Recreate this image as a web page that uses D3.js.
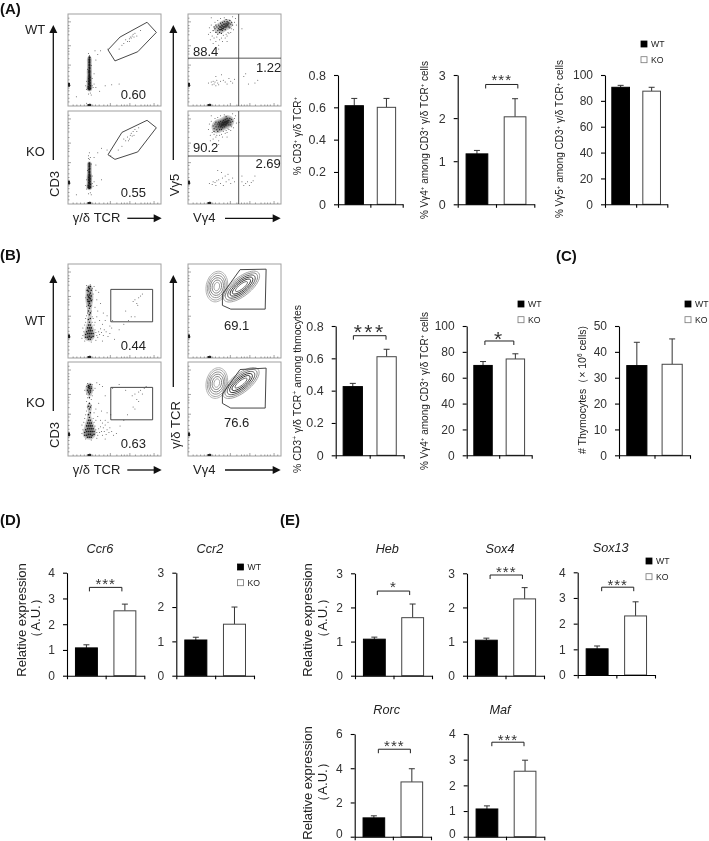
<!DOCTYPE html>
<html>
<head>
<meta charset="utf-8">
<script src="https://cdn.jsdelivr.net/npm/d3@7"></script>
<style>
  html, body { margin: 0; padding: 0; background: #fff; }
  svg { display: block; font-family: "Liberation Sans", Arial, sans-serif; filter: blur(0.35px); }
</style>
</head>
<body>
<div id="chart"></div>
<script>
var svgWidth = 709;
var svgHeight = 841;

var groups = ["WT", "KO"];

// bar heights and the top of each error bar
var a1Mean = [0.61, 0.60], a1Err = [0.655, 0.655];
var a2Mean = [1.17, 2.03], a2Err = [1.25, 2.45];
var a3Mean = [90.5, 87.5], a3Err = [92, 90.5];
var b1Mean = [0.425, 0.61], b1Err = [0.445, 0.656];
var b2Mean = [69.5, 74.5], b2Err = [72.5, 78.5];
var cMean = [34.7, 35.2], cErr = [43.7, 45];
var ccr6Mean = [1.08, 2.52], ccr6Err = [1.2, 2.78];
var ccr2Mean = [1.04, 1.5], ccr2Err = [1.12, 2.0];
var hebMean = [1.07, 1.7], hebErr = [1.13, 2.1];
var sox4Mean = [1.04, 2.25], sox4Err = [1.1, 2.58];
var sox13Mean = [1.02, 2.3], sox13Err = [1.13, 2.85];
var rorcMean = [1.1, 3.2], rorcErr = [1.22, 3.97];
var mafMean = [1.08, 2.55], mafErr = [1.2, 2.98];

// y axis ticks
var ticksFrac = [0, 0.2, 0.4, 0.6, 0.8];
var ticks3 = [0, 1, 2, 3];
var ticks4 = [0, 1, 2, 3, 4];
var ticks6 = [0, 2, 4, 6];
var ticks50 = [0, 10, 20, 30, 40, 50];
var ticks100 = [0, 20, 40, 60, 80, 100];

// flow panels use a 0-100 scale on both axes
var flowMinor = [5, 9, 13, 17, 20, 26, 29, 33, 38, 42, 52, 57, 60, 63, 72, 78, 82, 85, 88, 96];
var flowMajor = [23, 45, 66, 92];

var aCd3WtCore = [[23,18],[22,19],[24,19],[23,20],[22,21],[24,22],[23,23],[22.5,24],[23.5,25],[23,26],[22.5,27],[23.5,28],[23,29],[22.5,30],[23.5,31],[23,32],[23,33],[23,34],[23,36],[22.8,37],[23.2,38],[22.8,39],[23.2,41],[23,42],[23,44],[23,45],[23,47],[23,48],[23,50],[23,51],[23,53]];
var aCd3WtSparse = [[23,55],[22,57],[24,53],[25,44],[21,40],[26,30],[20,27],[26,22],[27,20],[20,18],[19,22],[28,24],[24,14],[25,12],[22,13],[30,20],[34,16],[40,22],[47,23],[55,24],[35,60],[32,56],[30,50],[29,60],[43,62],[60,68],[62,72],[64,70],[66,73],[67,75],[68,74],[69,76],[70,78],[71,75],[72,79],[66,70],[58,66],[74,76],[55,62],[78,82],[9,10],[20,3],[28,35]];
var aCd3KoCore = [[23,17],[22,18],[24,18],[23,19],[22,20],[24,21],[23,22],[22.5,23],[23.5,24],[23,25],[22.5,26],[23.5,27],[23,28],[22.5,29],[23.5,30],[23,31],[23,32],[23,34],[23,35],[22.8,37],[23.2,38],[23,40],[23,41],[23,43],[23,44]];
var aCd3KoSparse = [[23,48],[22,52],[24,50],[23,55],[22,49],[25,43],[21,36],[26,30],[20,26],[26,22],[27,19],[20,16],[19,20],[28,24],[24,12],[25,10],[22,11],[31,20],[36,26],[30,42],[28,50],[32,55],[36,60],[42,58],[46,52],[58,62],[62,68],[64,72],[66,70],[67,74],[68,76],[69,73],[70,78],[71,74],[72,80],[65,68],[60,70],[74,78],[76,82],[54,58],[9,10]];

var aVWtCore = [[27,82],[29,84],[30,80],[31,86],[32,82],[33,84],[33,88],[34,80],[34,86],[35,83],[35,90],[36,85],[36,88],[37,82],[37,87],[37,91],[38,84],[38,89],[39,86],[39,92],[40,83],[40,88],[41,90],[41,86],[42,87],[42,92],[43,88],[43,91],[44,90],[44,86],[45,93],[46,89],[47,91],[48,88],[36,79],[32,78],[30,88],[41,94],[28,86],[45,85],[34,83],[36,83],[38,86],[40,86],[42,89],[35,86],[37,84],[39,89],[41,88],[43,89]];
var aVWtSparse = [[22,78],[23,85],[24,72],[25,88],[26,76],[27,68],[28,74],[29,91],[30,70],[31,75],[32,93],[33,66],[34,72],[35,95],[36,74],[37,70],[38,77],[39,96],[40,74],[41,78],[42,76],[43,80],[44,79],[46,80],[47,84],[49,83],[50,91],[51,95],[52,88],[25,96],[24,80],[33,62],[42,70],[48,97],[58,84],[22,25],[25,26],[26,23],[27,27],[28,24],[29,26],[30,22],[31,28],[32,25],[33,23],[35,27],[38,28],[40,26],[42,24],[44,30],[46,27],[48,25],[36,34],[30,32],[50,29],[60,32],[65,24],[72,25],[75,28],[62,35]];
var aVKoCore = [[27,84],[28,81],[29,86],[30,83],[31,80],[32,86],[33,83],[33,88],[34,80],[34,85],[35,83],[35,89],[36,86],[37,82],[37,88],[38,85],[38,90],[39,86],[39,83],[40,88],[40,91],[41,85],[41,89],[42,87],[42,92],[43,88],[44,90],[44,85],[45,92],[46,88],[47,91],[48,89],[36,80],[32,78],[30,88],[41,94],[28,78],[46,85],[34,87],[36,84],[38,87],[40,85],[42,89],[37,85],[39,88],[41,87],[43,90]];
var aVKoSparse = [[22,80],[23,86],[24,74],[25,89],[26,77],[27,70],[28,75],[29,92],[30,72],[31,74],[32,93],[33,68],[34,74],[35,95],[36,75],[37,72],[38,78],[39,96],[40,76],[41,79],[42,77],[43,81],[44,80],[46,79],[47,83],[49,82],[50,92],[51,95],[52,87],[25,95],[24,68],[33,64],[42,72],[48,97],[55,88],[23,22],[26,21],[27,24],[29,23],[30,20],[31,25],[33,26],[35,22],[37,28],[38,20],[40,30],[41,24],[43,32],[44,26],[46,22],[48,28],[36,34],[32,36],[50,24],[58,24],[60,20],[62,22],[64,24],[66,20],[68,23],[70,25],[58,30],[72,30]];

var bCd3WtCore = [[22,20],[24,20],[19,22],[21,22],[23,23],[25,22],[27,23],[19,25],[21,26],[23,26],[25,26],[27,26],[20,28],[22,29],[24,29],[26,29],[21,32],[23,32],[25,32],[22,35],[24,35],[23,38],[22,41],[24,42],[23,46],[22,50],[24,48],[23,53],[22,56],[24,55],[23,58],[22,60],[23,60],[24,63],[22,65],[23,67],[24,69],[22,71],[21,62],[25,61],[21,67],[25,66],[23,64],[21,72],[25,72],[23,74],[24,76],[22,75]];
var bCd3WtSparse = [[16,24],[17,28],[16,32],[18,35],[19,38],[19,42],[20,45],[26,38],[27,42],[28,35],[29,30],[30,27],[31,24],[32,22],[33,28],[34,25],[35,31],[36,27],[38,24],[39,30],[41,28],[43,23],[45,26],[47,32],[29,38],[31,44],[34,40],[37,36],[40,40],[21,48],[25,50],[20,55],[25,56],[21,60],[26,62],[19,64],[27,68],[20,72],[26,74],[22,76],[24,78],[20,77],[28,76],[30,72],[33,70],[31,62],[35,58],[29,54],[32,50],[38,48],[42,45],[26,44],[18,18],[25,17],[30,19],[37,18],[50,20],[55,30],[60,36],[65,40],[72,44],[48,40],[70,60],[72,62],[74,58],[76,64],[78,66],[80,68],[75,56],[68,44],[62,50],[45,34],[24,30],[15,21]];
var bCd3KoCore = [[21,20],[23,20],[25,20],[18,22],[20,22],[22,23],[24,23],[26,22],[28,23],[18,25],[20,26],[22,26],[24,26],[26,26],[28,26],[19,28],[21,29],[23,29],[25,29],[27,29],[20,32],[22,32],[24,32],[26,32],[21,35],[23,35],[25,35],[22,38],[24,38],[23,41],[22,44],[24,46],[23,50],[22,53],[24,52],[23,56],[22,68],[24,70],[23,72],[22,73],[21,70],[25,72],[23,74],[24,68],[22,75],[24,76],[23,66],[23,62]];
var bCd3KoSparse = [[15,24],[16,28],[15,33],[17,36],[18,40],[19,44],[20,48],[27,40],[28,36],[29,32],[30,28],[31,25],[32,22],[33,29],[34,25],[35,31],[36,26],[37,22],[38,30],[39,26],[40,33],[41,23],[42,28],[44,25],[45,30],[47,26],[49,22],[30,38],[32,42],[35,38],[37,35],[40,38],[43,36],[28,46],[21,52],[25,54],[20,58],[25,60],[21,62],[26,64],[20,66],[27,70],[20,74],[26,76],[21,77],[25,74],[29,72],[31,78],[34,76],[37,74],[40,64],[33,56],[30,50],[36,48],[42,46],[46,44],[25,17],[19,18],[31,19],[40,18],[52,24],[56,32],[60,38],[64,44],[72,50],[69,64],[72,66],[74,60],[76,68],[78,70],[80,66],[82,72],[84,74],[76,58],[70,52],[48,72],[55,76],[62,70],[18,70]];

// polygon gates
var aGateWt = [[43,61],[50.5,49],[75,59],[95,80],[85,91],[56,75]];
var aGateKo = [[43,53],[50.5,48],[75,56],[95,82],[85,90],[58,77]];
var bRectGate = [[46,38.5],[91,38.5],[91,73],[46,73]];
var bVGateWt = [[37,68],[56,94],[84,94.5],[83,52],[46,52],[37,56]];
var bVGateKo = [[37,66],[56,92],[84,93.5],[83,51],[46,51],[37,56]];

// contour levels [half width, half height], outer to inner
var blobLevelsLeft = [[11.5,16.5],[10,14.5],[8.5,12],[7,9.5],[5,7],[3,4.5]];
var blobLevelsRight = [[23.5,10],[21,8.5],[18,7],[15,5.5],[12,4],[8,2.5]];

// gene panels and summary panels: where each axis sits on the page
var barPanels = [
  {mean: a1Mean, err: a1Err, ticks: ticksFrac, max: 0.8, x0: 338, x1: 402.7, y0: 204.3, y1: 75, tickFont: 12.5},
  {mean: a2Mean, err: a2Err, ticks: ticks3, max: 3, x0: 457.7, x1: 534.3, y0: 204.3, y1: 75, tickFont: 12.5, bracket: [0.73, 1.57, 2.78, 2.96, "***", 15]},
  {mean: a3Mean, err: a3Err, ticks: ticks100, max: 100, x0: 605, x1: 667.3, y0: 204.3, y1: 75, tickFont: 12},
  {mean: b1Mean, err: b1Err, ticks: ticksFrac, max: 0.8, x0: 335.7, x1: 403.7, y0: 455.3, y1: 326, tickFont: 12.5, bracket: [0.52, 1.48, 0.74, 0.794, "***", 21]},
  {mean: b2Mean, err: b2Err, ticks: ticks100, max: 100, x0: 466.7, x1: 531.7, y0: 455.3, y1: 326, tickFont: 12, bracket: [0.56, 1.45, 88.4, 93.8, "*", 21]},
  {mean: cMean, err: cErr, ticks: ticks50, max: 50, x0: 619, x1: 690, y0: 455.3, y1: 326, tickFont: 12},
  {mean: ccr6Mean, err: ccr6Err, ticks: ticks4, max: 4, x0: 67, x1: 144.3, y0: 675.7, y1: 572.7, tickFont: 12, title: "Ccr6", titleX: 100, titleY: 553, bracket: [0.58, 1.42, 3.43, 3.68, "***", 15]},
  {mean: ccr2Mean, err: ccr2Err, ticks: ticks3, max: 3, x0: 176.3, x1: 254, y0: 675.7, y1: 572.7, tickFont: 12, title: "Ccr2", titleX: 210, titleY: 553},
  {mean: hebMean, err: hebErr, ticks: ticks3, max: 3, x0: 355, x1: 432, y0: 675.7, y1: 573.3, tickFont: 12, title: "Heb", titleX: 387.3, titleY: 553, bracket: [0.58, 1.42, 2.48, 2.69, "*", 15]},
  {mean: sox4Mean, err: sox4Err, ticks: ticks3, max: 3, x0: 467, x1: 544, y0: 675.7, y1: 573.3, tickFont: 12, title: "Sox4", titleX: 500, titleY: 553, bracket: [0.6, 1.44, 2.95, 3.15, "***", 15]},
  {mean: sox13Mean, err: sox13Err, ticks: ticks4, max: 4, x0: 577.7, x1: 655, y0: 675, y1: 572.3, tickFont: 12, title: "Sox13", titleX: 610.7, titleY: 552, bracket: [0.62, 1.45, 3.42, 3.63, "***", 15]},
  {mean: rorcMean, err: rorcErr, ticks: ticks6, max: 6, x0: 354.7, x1: 431, y0: 836.7, y1: 734, tickFont: 12, zeroLift: true, title: "Rorc", titleX: 386.7, titleY: 714, bracket: [0.62, 1.46, 5.11, 5.52, "***", 15]},
  {mean: mafMean, err: mafErr, ticks: ticks4, max: 4, x0: 467.7, x1: 544.3, y0: 836.7, y1: 734, tickFont: 12, zeroLift: true, title: "Maf", titleX: 500, titleY: 714, bracket: [0.63, 1.47, 3.68, 3.9, "***", 15]}
];

var flowPanels = [
  {x: 68, y: 14, w: 93, h: 92, core: aCd3WtCore, sparse: aCd3WtSparse, gate: aGateWt, coreR: 0.9, band: 1.1},
  {x: 68, y: 111, w: 93, h: 93, core: aCd3KoCore, sparse: aCd3KoSparse, gate: aGateKo, coreR: 0.9, band: 1.1},
  {x: 188, y: 14, w: 93, h: 92, core: aVWtCore, sparse: aVWtSparse, quad: [54.5, 52], coreR: 0.6, band: 2.2},
  {x: 188, y: 111, w: 93, h: 93, core: aVKoCore, sparse: aVKoSparse, quad: [54.5, 51.6], coreR: 0.6, band: 2.2},
  {x: 68, y: 264, w: 93, h: 94, core: bCd3WtCore, sparse: bCd3WtSparse, gate: bRectGate, coreR: 0.8, band: 1.8},
  {x: 68, y: 362, w: 93, h: 94, core: bCd3KoCore, sparse: bCd3KoSparse, gate: bRectGate, coreR: 0.8, band: 1.8},
  {x: 188, y: 264, w: 93, h: 94, gate: bVGateWt, blobs: [31, 76, 57.5, 76]},
  {x: 188, y: 362, w: 93, h: 94, gate: bVGateKo, blobs: [31, 77.6, 57, 77.6]}
];

var panelLetters = [["(A)", 0, 14], ["(B)", 0, 260], ["(C)", 556, 261], ["(D)", 0, 525], ["(E)", 280, 525]];
var legendSpots = [[641, 41], [518, 301], [685, 301], [237.5, 564], [646, 558]];

var plainLabels = [
  ["WT", 25, 34], ["KO", 26, 156], ["WT", 25, 325], ["KO", 26, 407],
  ["0.60", 120.7, 99], ["0.55", 120.7, 197], ["88.4", 193, 56], ["1.22", 256, 72], ["90.2", 193, 152], ["2.69", 255.5, 168],
  ["0.44", 120.7, 350], ["0.63", 120.7, 448], ["69.1", 224, 330], ["76.6", 224, 427],
  ["γ/δ TCR", 72.7, 222], ["Vγ4", 193, 222], ["γ/δ TCR", 72.7, 473.5], ["Vγ4", 193, 473.5]
];
var sideLabels = [
  ["CD3", 59, 184, 13], ["Vγ5", 179, 185, 13], ["CD3", 59, 435, 13], ["γ/δ TCR", 180, 425, 13],
  ["% CD3^+^ γ/δ TCR^+^", 301, 136, 10], ["% Vγ4^+^ among CD3^+^ γ/δ TCR^+^ cells", 427.7, 140, 10], ["% Vγ5^+^ among CD3^+^ γ/δ TCR^+^ cells", 563.3, 139, 10],
  ["% CD3^+^ γ/δ TCR^+^ among thmocytes", 301, 389, 10.5], ["% Vγ4^+^ among CD3^+^ γ/δ TCR^+^ cells", 427.7, 391, 10], ["# Thymocytes（× 10^6^ cells)", 586, 390, 10.5],
  ["Relative expression", 25.7, 620, 13], ["（A.U.）", 40, 618, 13],
  ["Relative expression", 312.3, 620, 13], ["（A.U.）", 327, 618, 13],
  ["Relative expression", 312.3, 783, 13], ["（A.U.）", 327, 782, 13]
];
// [x1, y1, x2, y2] shaft ends; the head sits at x2, y2
var arrowLines = [
  [53.3, 160, 53.3, 25], [173.3, 160, 173.3, 25], [127.3, 218.3, 161.7, 218.3], [225, 218.3, 280.7, 218.3],
  [53.3, 411, 53.3, 275], [173.3, 387, 173.3, 275], [127.3, 470, 161.7, 470], [225, 470, 280.7, 470]
];

var svg = d3.select("#chart").append("svg")
    .attr("width", svgWidth)
    .attr("height", svgHeight);

// text with ^...^ pieces set as superscript
function richText(sel, str, size) {
    str.split("^").forEach(function (part, i) {
        var span = sel.append("tspan").text(part);
        if (i % 2 == 1) {
            span.attr("font-size", size * 0.62).attr("dy", -size * 0.36);
        } else if (i > 0) {
            span.attr("dy", size * 0.36);
        }
    });
}

// flow panels
flowPanels.forEach(function (p) {
    var x = d3.scaleLinear().domain([0, 100]).range([p.x, p.x + p.w]);
    var y = d3.scaleLinear().domain([0, 100]).range([p.y + p.h, p.y]);
    var g = svg.append("g");

    g.append("rect")
        .attr("x", p.x).attr("y", p.y)
        .attr("width", p.w).attr("height", p.h)
        .attr("fill", "#fff").attr("stroke", "#a0a0a0").attr("stroke-width", 1);

    // tiny log ticks along both edges, pointing in
    [[flowMinor, 1.5], [flowMajor, 3]].forEach(function (t) {
        var bottom = d3.axisBottom(x).tickValues(t[0]).tickSize(-t[1]);
        var left = d3.axisLeft(y).tickValues(t[0]).tickSize(-t[1]);
        [g.append("g").attr("transform", "translate(0," + (p.y + p.h) + ")").call(bottom),
         g.append("g").attr("transform", "translate(" + p.x + ",0)").call(left)].forEach(function (ax) {
            ax.select(".domain").remove();
            ax.selectAll("text").remove();
            ax.selectAll("line").attr("stroke", "#666").attr("stroke-width", 0.6);
        });
    });
    // the pile-up at zero
    g.append("line").attr("x1", x(21)).attr("x2", x(25)).attr("y1", p.y + p.h - 1).attr("y2", p.y + p.h - 1)
        .attr("stroke", "#222").attr("stroke-width", 2);
    g.append("line").attr("x1", p.x + 1).attr("x2", p.x + 1).attr("y1", y(25)).attr("y2", y(21))
        .attr("stroke", "#222").attr("stroke-width", 2);

    if (p.sparse) {
        g.selectAll(".sparse").data(p.sparse).enter().append("circle")
            .attr("class", "sparse")
            .attr("cx", d => x(d[0])).attr("cy", d => y(d[1]))
            .attr("r", 0.5).attr("fill", "#555");
    }
    if (p.core) {
        // the dense middle of a cloud reads as a smear, so shade its density under the dots
        var density = d3.contourDensity()
            .x(d => x(d[0])).y(d => y(d[1]))
            .size([svgWidth, svgHeight])
            .cellSize(1)
            .bandwidth(p.band)
            .thresholds(5)(p.core);
        g.append("g").selectAll("path").data(density).enter().append("path")
            .attr("d", d3.geoPath())
            .attr("fill", "#000")
            .attr("fill-opacity", 0.22);
        g.selectAll(".core").data(p.core).enter().append("circle")
            .attr("class", "core")
            .attr("cx", d => x(d[0])).attr("cy", d => y(d[1]))
            .attr("r", p.coreR).attr("fill", "#1a1a1a");
    }
    if (p.blobs) {
        var ellipse = d3.line().x(d => x(d[0])).y(d => y(d[1])).curve(d3.curveCardinalClosed);
        var drawBlob = function (cx, cy, levels, tilt, dark) {
            var rad = tilt * Math.PI / 180;
            levels.forEach(function (lv, i) {
                var pts = d3.range(0, 360, 30).map(function (a) {
                    var t = a * Math.PI / 180;
                    var ex = lv[0] * Math.cos(t), ey = lv[1] * Math.sin(t);
                    return [cx + ex * Math.cos(rad) - ey * Math.sin(rad), cy + ex * Math.sin(rad) + ey * Math.cos(rad)];
                });
                g.append("path").attr("d", ellipse(pts)).attr("fill", "none")
                    .attr("stroke", dark[i]).attr("stroke-width", 0.9);
            });
        };
        drawBlob(p.blobs[0], p.blobs[1], blobLevelsLeft, -12, ["#aaa", "#999", "#888", "#777", "#777", "#999"]);
        drawBlob(p.blobs[2], p.blobs[3], blobLevelsRight, 38, ["#999", "#777", "#444", "#222", "#222", "#555"]);
    }
    if (p.gate) {
        g.append("path")
            .attr("d", d3.line().x(d => x(d[0])).y(d => y(d[1])).curve(d3.curveLinearClosed)(p.gate))
            .attr("fill", "none").attr("stroke", "#333").attr("stroke-width", 0.9);
    }
    if (p.quad) {
        g.append("line").attr("x1", x(p.quad[0])).attr("x2", x(p.quad[0])).attr("y1", y(0)).attr("y2", y(100))
            .attr("stroke", "#444").attr("stroke-width", 0.9);
        g.append("line").attr("x1", x(0)).attr("x2", x(100)).attr("y1", y(p.quad[1])).attr("y2", y(p.quad[1]))
            .attr("stroke", "#444").attr("stroke-width", 0.9);
    }
});

// bar panels
barPanels.forEach(function (p) {
    var x = d3.scaleBand().domain(groups).range([p.x0, p.x1]).paddingInner(0.43).paddingOuter(0.22);
    var xTick = d3.scaleLinear().domain([0, 2]).range([p.x0, p.x1]);
    var y = d3.scaleLinear().domain([0, p.max]).range([p.y0, p.y1]);
    var g = svg.append("g");
    var rows = groups.map((name, i) => ({name: name, mean: p.mean[i], err: p.err[i]}));

    // error bars first so the bar outline covers the stem foot
    g.selectAll(".stem").data(rows).enter().append("line")
        .attr("x1", d => x(d.name) + x.bandwidth() / 2).attr("x2", d => x(d.name) + x.bandwidth() / 2)
        .attr("y1", d => y(d.mean)).attr("y2", d => y(d.err))
        .attr("stroke", "#333").attr("stroke-width", 1);
    g.selectAll(".cap").data(rows).enter().append("line")
        .attr("x1", d => x(d.name) + x.bandwidth() / 2 - 3).attr("x2", d => x(d.name) + x.bandwidth() / 2 + 3)
        .attr("y1", d => y(d.err)).attr("y2", d => y(d.err))
        .attr("stroke", "#333").attr("stroke-width", 1);

    g.selectAll(".bar").data(rows).enter().append("rect")
        .attr("x", d => x(d.name)).attr("width", x.bandwidth())
        .attr("y", d => y(d.mean)).attr("height", d => y(0) - y(d.mean))
        .attr("fill", d => d.name == "WT" ? "#000" : "#fff")
        .attr("stroke", d => d.name == "WT" ? "#000" : "#444")
        .attr("stroke-width", 1);

    var yAxis = g.append("g").attr("transform", "translate(" + p.x0 + ",0)")
        .call(d3.axisLeft(y).tickValues(p.ticks).tickSize(4).tickSizeOuter(0).tickPadding(8).tickFormat(d => d));
    var xAxis = g.append("g").attr("transform", "translate(0," + p.y0 + ")")
        .call(d3.axisBottom(xTick).tickValues([0, 1, 2]).tickSize(3.5).tickSizeOuter(0));
    xAxis.selectAll("text").remove();
    yAxis.selectAll("text").attr("font-size", p.tickFont).attr("fill", "#333").attr("font-family", '"Liberation Sans", Arial, sans-serif');
    yAxis.selectAll(".domain, line").attr("stroke-width", 1.1);
    xAxis.selectAll(".domain, line").attr("stroke-width", 1.1);

    // the bottom row's zero sits right on the page edge, lift it so it is not cut
    if (p.zeroLift) {
        yAxis.selectAll("text").filter(d => d == 0).attr("dy", "0.05em");
    }

    if (p.bracket) {
        var b = p.bracket;
        var yb = y(b[2]);
        g.append("path")
            .attr("d", d3.line()([[xTick(b[0]), yb + 4], [xTick(b[0]), yb], [xTick(b[1]), yb], [xTick(b[1]), yb + 4]]))
            .attr("fill", "none").attr("stroke", "#222").attr("stroke-width", 1);
        g.append("text")
            .attr("x", (xTick(b[0]) + xTick(b[1])) / 2)
            .attr("y", y(b[3]) + b[5] * 0.56)
            .attr("text-anchor", "middle")
            .attr("font-size", b[5])
            .attr("letter-spacing", b[5] > 15 ? 2.5 : 1)
            .attr("fill", "#333")
            .text(b[4]);
    }
    if (p.title) {
        g.append("text")
            .attr("x", p.titleX).attr("y", p.titleY)
            .attr("text-anchor", "middle")
            .attr("font-size", 12.7)
            .attr("font-style", "italic")
            .attr("fill", "#222")
            .text(p.title);
    }
});

// legends
legendSpots.forEach(function (s) {
    var g = svg.append("g").attr("transform", "translate(" + s[0] + "," + s[1] + ")");
    groups.forEach(function (name, i) {
        var top = i * 15.7;
        g.append("rect").attr("x", 0).attr("y", top).attr("width", 6).attr("height", 6)
            .attr("fill", name == "WT" ? "#000" : "#fff")
            .attr("stroke", name == "WT" ? "#000" : "#777").attr("stroke-width", 0.8);
        g.append("text").attr("x", 10).attr("y", top + 6.3)
            .attr("font-size", 8.7).attr("fill", "#222").text(name);
    });
});

// panel letters and free labels
svg.selectAll(".letter").data(panelLetters).enter().append("text")
    .attr("class", "letter")
    .attr("x", d => d[1]).attr("y", d => d[2])
    .attr("font-size", 15).attr("font-weight", "bold").attr("fill", "#111")
    .text(d => d[0]);

svg.selectAll(".plain").data(plainLabels).enter().append("text")
    .attr("class", "plain")
    .attr("x", d => d[1]).attr("y", d => d[2])
    .attr("font-size", 13).attr("fill", "#222")
    .text(d => d[0]);

sideLabels.forEach(function (d) {
    var t = svg.append("text")
        .attr("transform", "translate(" + d[1] + "," + d[2] + ") rotate(-90)")
        .attr("text-anchor", "middle")
        .attr("font-size", d[3])
        .attr("fill", "#222");
    richText(t, d[0], d[3]);
});

// arrows
arrowLines.forEach(function (a) {
    var dx = Math.sign(a[2] - a[0]), dy = Math.sign(a[3] - a[1]);
    svg.append("line")
        .attr("x1", a[0]).attr("y1", a[1]).attr("x2", a[2] - dx * 5).attr("y2", a[3] - dy * 5)
        .attr("stroke", "#111").attr("stroke-width", 1.3);
    svg.append("path")
        .attr("d", d3.line().curve(d3.curveLinearClosed)([
            [a[2], a[3]],
            [a[2] - dx * 8 - dy * 4, a[3] - dy * 8 - dx * 4],
            [a[2] - dx * 8 + dy * 4, a[3] - dy * 8 + dx * 4]
        ]))
        .attr("fill", "#111");
});
</script>
</body>
</html>
